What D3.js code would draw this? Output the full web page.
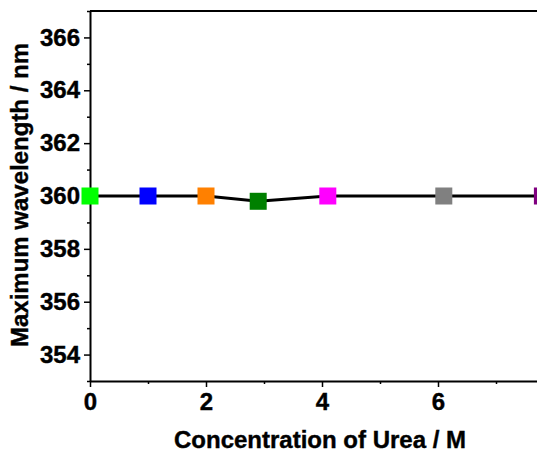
<!DOCTYPE html>
<html>
<head>
<meta charset="utf-8">
<script src="https://cdn.jsdelivr.net/npm/d3@7"></script>
<style>
  html, body { margin: 0; padding: 0; background: #fff; }
  svg { display: block; overflow: hidden; }
  text { font-family: Arial, "Liberation Sans", sans-serif; font-weight: bold; stroke: #000; stroke-width: 0.4px; }
</style>
</head>
<body>
<svg width="537" height="454"></svg>
<script>
// values
var urea = [0, 1, 2, 2.9, 4.1, 6.1, 7.8];
var lambdaMax = [360, 360, 360, 359.8, 360, 360, 360];
var markerColors = ["#00ff00", "#0000ff", "#ff8000", "#008000", "#ff00ff", "#808080", "#800080"];
var xTicks = [0, 2, 4, 6];
var yTicks = [354, 356, 358, 360, 362, 364, 366];

var svg = d3.select("svg");

var plotLeft = 90, plotRight = 554, plotTop = 11, plotBottom = 381;

var x = d3.scaleLinear().domain([0, 8]).range([plotLeft, plotRight]);
var y = d3.scaleLinear().domain([353, 367]).range([plotBottom, plotTop]);

// frame (top and right; right lies outside the visible area)
svg.append("line")
    .attr("x1", plotLeft).attr("x2", plotRight)
    .attr("y1", plotTop).attr("y2", plotTop)
    .attr("stroke", "#000").attr("stroke-width", 2);
svg.append("line")
    .attr("x1", plotRight).attr("x2", plotRight)
    .attr("y1", plotTop).attr("y2", plotBottom)
    .attr("stroke", "#000").attr("stroke-width", 2);

// minor ticks
var xMinor = d3.axisBottom(x).tickValues([1, 3, 5, 7]).tickSize(3).tickFormat("");
var yMinor = d3.axisLeft(y).tickValues([353, 355, 357, 359, 361, 363, 365, 367]).tickSize(3).tickFormat("");

svg.append("g").attr("transform", "translate(0," + plotBottom + ")").call(xMinor)
    .call(function(g) { g.select(".domain").remove(); g.selectAll("line").attr("stroke-width", 1.5); });
svg.append("g").attr("transform", "translate(" + plotLeft + ",0)").call(yMinor)
    .call(function(g) { g.select(".domain").remove(); g.selectAll("line").attr("stroke-width", 1.5); });

var xAxis = d3.axisBottom(x).tickValues(xTicks).tickSize(6).tickSizeOuter(0).tickPadding(6);
var yAxis = d3.axisLeft(y).tickValues(yTicks).tickSize(6).tickSizeOuter(0).tickPadding(4);

svg.append("g").attr("transform", "translate(0," + plotBottom + ")").call(xAxis)
    .call(function(g) {
        g.select(".domain").attr("stroke-width", 2);
        g.selectAll(".tick line").attr("stroke-width", 1.5);
        g.selectAll("text").attr("font-size", 24).attr("fill", "#000");
    });
svg.append("g").attr("transform", "translate(" + plotLeft + ",0)").call(yAxis)
    .call(function(g) {
        g.select(".domain").attr("stroke-width", 2);
        g.selectAll(".tick line").attr("stroke-width", 1.5);
        g.selectAll("text").attr("font-size", 24).attr("fill", "#000");
    });

// data line
var pts = urea.map(function(d, i) { return [d, lambdaMax[i]]; });
svg.append("path")
    .datum(pts)
    .attr("fill", "none")
    .attr("stroke", "#000")
    .attr("stroke-width", 3)
    .attr("d", d3.line().x(function(d) { return x(d[0]); }).y(function(d) { return y(d[1]); }));

var s = 17;
svg.selectAll("rect.m")
    .data(pts)
    .enter().append("rect")
    .attr("class", "m")
    .attr("x", function(d) { return x(d[0]) - s / 2; })
    .attr("y", function(d) { return y(d[1]) - s / 2; })
    .attr("width", s).attr("height", s)
    .attr("fill", function(d, i) { return markerColors[i]; });

// axis titles
svg.append("text")
    .attr("x", 320).attr("y", 448)
    .attr("text-anchor", "middle")
    .attr("font-size", 24)
    .text("Concentration of Urea / M");

svg.append("text")
    .attr("transform", "translate(28,195) rotate(-90)")
    .attr("text-anchor", "middle")
    .attr("font-size", 24)
    .text("Maximum wavelength / nm");
</script>
</body>
</html>
